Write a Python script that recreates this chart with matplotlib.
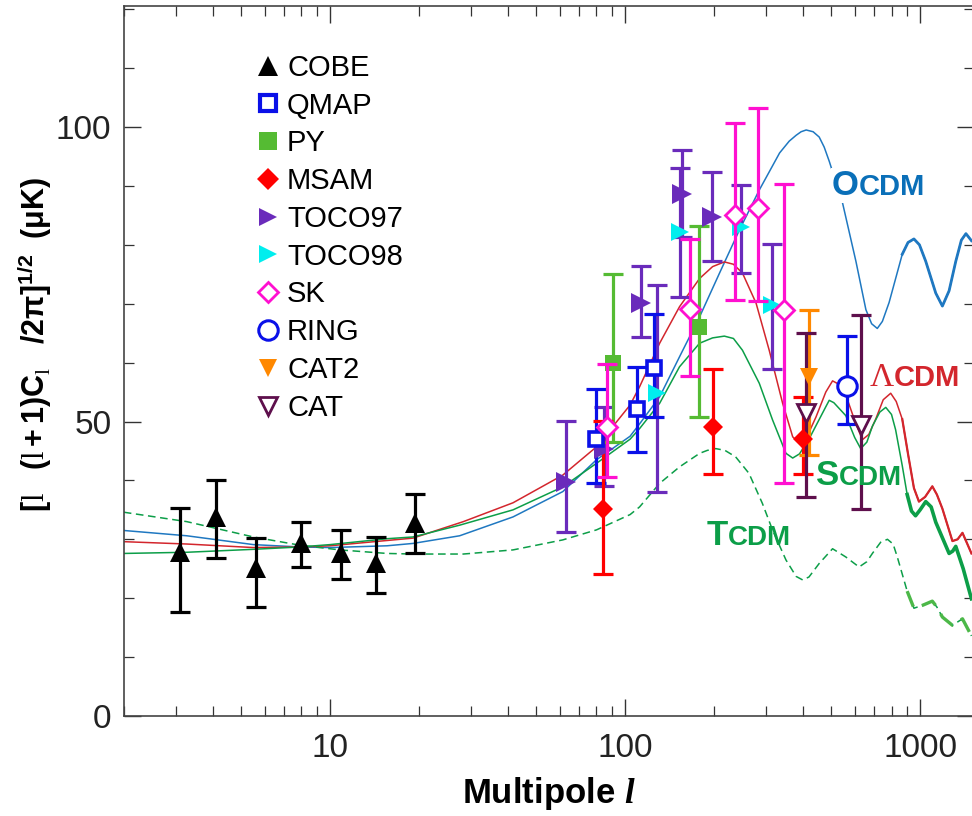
import numpy as np
import matplotlib
matplotlib.use("Agg")
import matplotlib.pyplot as plt
from matplotlib.lines import Line2D

plt.rcParams['font.family'] = ['Liberation Sans', 'DejaVu Sans']
plt.rcParams['mathtext.fontset'] = 'custom'
plt.rcParams['mathtext.rm'] = 'Liberation Serif'
plt.rcParams['mathtext.bf'] = 'Liberation Sans:bold'
plt.rcParams['mathtext.it'] = 'Liberation Serif:italic:bold'
plt.rcParams['mathtext.sf'] = 'Liberation Sans'

# ---------------- data ----------------
cobe_l   = [3.1, 4.1, 5.6, 8.0, 10.9, 14.3, 19.4]
cobe_v   = [27.9, 33.8, 25.1, 29.3, 27.6, 25.9, 32.7]
cobe_lo  = [17.6, 26.9, 18.5, 25.3, 23.3, 20.8, 27.7]
cobe_hi  = [35.4, 40.0, 30.3, 33.0, 31.6, 30.4, 37.7]

qmap_l   = [80, 110, 125]
qmap_v   = [47.1, 52.1, 59.1]
qmap_lo  = [39.5, 44.9, 50.7]
qmap_hi  = [55.5, 59.3, 68.2]

py_l     = [91, 178]
py_v     = [60.0, 66.1]
py_lo    = [46.6, 50.7]
py_hi    = [75.0, 83.2]

msam_l   = [84, 198, 402]
msam_v   = [35.1, 49.1, 47.0]
msam_lo  = [24.1, 41.1, 41.1]
msam_hi  = [50.1, 59.0, 54.1]

toco97_l  = [63, 85, 113, 156, 197]
toco97_v  = [39.8, 45.3, 70.2, 88.7, 84.8]
toco97_lo = [31.3, 39.0, 64.4, 81.3, 77.2]
toco97_hi = [50.1, 52.4, 76.4, 96.1, 92.4]

toco98_l  = [128, 153, 247, 316]
toco98_v  = [54.8, 82.1, 83.1, 69.8]
toco98_lo = [38.1, 71.2, 75.2, 59.0]
toco98_hi = [73.1, 93.1, 90.2, 80.1]

sk_l     = [87, 166, 235, 283, 345]
sk_v     = [49.1, 69.1, 85.1, 86.2, 69.0]
sk_lo    = [40.6, 57.8, 70.6, 70.5, 39.5]
sk_hi    = [59.7, 81.0, 100.7, 103.2, 90.4]

ring_l   = [565]
ring_v   = [56.1]
ring_lo  = [49.5]
ring_hi  = [64.6]

cat2_l   = [420]
cat2_v   = [57.6]
cat2_lo  = [44.4]
cat2_hi  = [69.0]

cat_l    = [409, 629]
cat_v    = [51.5, 49.4]
cat_lo   = [37.1, 35.2]
cat_hi   = [65.1, 68.1]

# model curves
ocdm_l = [2, 3.27, 5.5, 7.9, 10, 15.6, 19.1, 27.5, 41.7, 61.5, 80, 104, 112, 131, 153, 179,
          209, 244, 285, 334, 360, 380, 395, 411, 434, 455, 473, 492, 546, 606, 655, 685,
          716, 745, 785, 870, 910, 953, 995, 1045, 1130, 1190, 1254, 1321, 1380, 1430, 1493]
ocdm_v = [31.5, 30.6, 29.1, 28.7, 28.6, 28.9, 29.3, 30.6, 33.8, 38.1, 43.5, 47.5, 49.6, 54.2, 61.0, 67.8,
          75.2, 82.5, 89.3, 95.6, 97.6, 98.6, 99.2, 99.5, 99.2, 98.3, 96.6, 94.2, 87.1, 77.2, 69.0, 66.6,
          65.8, 67.0, 70.2, 78.4, 80.4, 81.0, 80.0, 77.2, 71.8, 69.6, 72.2, 77.2, 80.8, 81.9, 80.7]

lcdm_l = [2, 3.27, 5.5, 7.9, 10, 15.6, 19.1, 28.3, 41.7, 61.5, 80, 104, 112, 131, 153, 179,
          198, 217, 233, 250, 278, 308, 342, 370, 390, 410, 444, 479, 505, 532, 560, 600,
          637, 670, 707, 750, 795, 830, 870, 910, 953, 991, 1040, 1100, 1140, 1190, 1287,
          1340, 1392, 1493]
lcdm_v = [29.6, 29.2, 28.6, 28.7, 28.9, 29.8, 30.2, 33.0, 36.2, 40.9, 45.7, 52.8, 55.9, 63.3, 69.5, 74.3,
          76.3, 77.1, 76.7, 75.2, 70.1, 62.1, 53.1, 47.4, 46.3, 47.0, 50.8, 55.0, 56.9, 56.3, 54.5, 50.2,
          46.9, 47.8, 50.4, 53.7, 54.8, 53.4, 50.4, 44.5, 38.7, 36.4, 37.2, 39.0, 37.6, 35.2, 29.7,
          30.0, 31.1, 27.6]

scdm_l = [2, 3.27, 5.5, 7.9, 10, 15.6, 19.1, 27.5, 41.7, 61.5, 80, 104, 112, 131, 153, 179,
          198, 217, 233, 250, 285, 316, 351, 370, 390, 421, 479, 492, 510, 560, 600, 629,
          660, 689, 730, 765, 800, 826, 870, 904, 935, 965, 1000, 1045, 1090, 1130, 1254,
          1290, 1321, 1400, 1493]
scdm_v = [27.6, 27.8, 28.3, 28.7, 29.1, 30.1, 30.4, 32.4, 35.0, 38.9, 42.9, 47.0, 48.8, 53.1, 59.3, 63.3,
          64.2, 64.5, 64.1, 62.1, 56.5, 50.3, 44.6, 43.8, 44.5, 47.1, 52.5, 53.6, 53.2, 51.0, 47.3, 45.4,
          46.5, 49.2, 51.6, 52.4, 51.2, 48.6, 42.5, 37.6, 34.8, 34.0, 35.0, 36.4, 35.5, 32.9, 27.6,
          28.0, 28.8, 25.0, 19.9]

tcdm_l = [2, 3.27, 5.5, 7.9, 10.8, 15.6, 19.1, 28.3, 41.7, 61.5, 80, 104, 112, 131, 153, 179,
          190, 203, 218, 237, 263, 292, 316, 351, 380, 400, 420, 455, 505, 560, 621, 660,
          689, 735, 775, 810, 837, 904, 953, 1020, 1100, 1140, 1190, 1287, 1392, 1493]
tcdm_v = [34.6, 33.0, 30.4, 29.0, 28.2, 27.6, 27.5, 27.5, 28.2, 29.9, 31.6, 34.2, 35.5, 39.5, 42.3, 44.6,
          45.1, 45.4, 45.1, 44.0, 41.2, 36.1, 31.6, 26.5, 23.7, 23.1, 23.6, 25.9, 28.4, 27.0, 25.3, 26.2,
          27.6, 29.5, 30.0, 29.2, 27.0, 21.2, 18.3, 18.8, 19.5, 18.5, 16.8, 15.4, 16.5, 13.6]

legend_labels = ['COBE', 'QMAP', 'PY', 'MSAM', 'TOCO97', 'TOCO98', 'SK', 'RING', 'CAT2', 'CAT']

# ---------------- figure ----------------
fig = plt.figure(figsize=(9.72, 8.16), dpi=100)
ax = fig.add_axes([123.8 / 972, 100 / 816, (973.5 - 123.8) / 972, 709.7 / 816])
ax.set_xscale('log')
ax.set_xlim(2, 1517)
ax.set_ylim(0, 120.5)

c_o = '#1f78c1'
c_l = '#d3262d'
c_s = '#0c9e48'


def curve(lv, yv, color, thick_from, lw_thick, thick_color=None, **kw):
    lv = np.asarray(lv, float)
    yv = np.asarray(yv, float)
    ax.plot(lv, yv, color=color, lw=1.1, zorder=2, solid_joinstyle='round', **kw)
    m = lv >= thick_from
    ax.plot(lv[m], yv[m], color=thick_color or color, lw=lw_thick, zorder=2,
            solid_joinstyle='round', **kw)


curve(ocdm_l, ocdm_v, c_o, 870, 2.0)
curve(lcdm_l, lcdm_v, c_l, 870, 1.6)
curve(scdm_l, scdm_v, c_s, 904, 2.6)
curve(tcdm_l, tcdm_v, c_s, 904, 2.4, thick_color='#4cb848', dashes=(5, 3))

purple = '#6a2bbb'


def errb(lv, v, lo, hi, marker, color, ms, mfc=None, mew=0.0, ecolor=None, z=4):
    v = np.asarray(v, float)
    yerr = [v - np.asarray(lo, float), np.asarray(hi, float) - v]
    ax.errorbar(lv, v, yerr=yerr, fmt='none', ecolor=ecolor or color,
                elinewidth=2.3, capsize=7.5, capthick=2.3, zorder=z)
    ax.plot(lv, v, ls='none', marker=marker, ms=ms, markerfacecolor=mfc if mfc is not None else color,
            markeredgecolor=color, markeredgewidth=mew, zorder=z + 0.5)


errb(cobe_l, cobe_v, cobe_lo, cobe_hi, '^', 'black', 15)
errb(toco98_l, toco98_v, toco98_lo, toco98_hi, '>', '#00eeee', 13.5, ecolor=purple)
errb(toco97_l, toco97_v, toco97_lo, toco97_hi, '>', purple, 14)
errb(py_l, py_v, py_lo, py_hi, 's', '#55bb33', 11.5)
errb(qmap_l, qmap_v, qmap_lo, qmap_hi, 's', '#0a10e8', 9.5, mfc='white', mew=2.6)
errb(msam_l, msam_v, msam_lo, msam_hi, 'D', '#ff0000', 10.5)
errb(cat2_l, cat2_v, cat2_lo, cat2_hi, 'v', '#ff8800', 13.5)
errb(cat_l, cat_v, cat_lo, cat_hi, 'v', '#5e0f4c', 12.5, mfc='white', mew=2.0)
errb(ring_l, ring_v, ring_lo, ring_hi, 'o', '#0a10e8', 14, mfc='white', mew=2.2)
errb(sk_l, sk_v, sk_lo, sk_hi, 'D', '#ff10d0', 10.5, mfc='white', mew=2.0, z=5)

# legend
handles = [
    Line2D([], [], ls='none', marker='^', color='black', ms=15, mew=0),
    Line2D([], [], ls='none', marker='s', color='#0a10e8', mfc='white', ms=12, mew=3),
    Line2D([], [], ls='none', marker='s', color='#55bb33', ms=13, mew=0),
    Line2D([], [], ls='none', marker='D', color='#ff0000', ms=11, mew=0),
    Line2D([], [], ls='none', marker='>', color=purple, ms=13.5, mew=0),
    Line2D([], [], ls='none', marker='>', color='#00eeee', ms=13.5, mew=0),
    Line2D([], [], ls='none', marker='D', color='#ff10d0', mfc='white', ms=10.5, mew=2),
    Line2D([], [], ls='none', marker='o', color='#0a10e8', mfc='white', ms=14, mew=2.2),
    Line2D([], [], ls='none', marker='v', color='#ff8800', ms=13.5, mew=0),
    Line2D([], [], ls='none', marker='v', color='#5e0f4c', mfc='white', ms=12.5, mew=2),
]
leg = ax.legend(handles, legend_labels, loc='upper left', bbox_to_anchor=(0.1526, 0.933),
                frameon=False, fontsize=21, handlelength=1.0, handletextpad=0.15,
                labelspacing=0.335, borderpad=0, borderaxespad=0)


# model labels
def model_label(xf, yf, first, rest, color, s1, s2, fam1=None, w1='bold', bg=False):
    kw = dict(transform=ax.transAxes, va='baseline', color=color, zorder=6)
    t1 = ax.text(xf, yf, first, ha='right', fontsize=s1, fontweight=w1,
                 family=fam1 or ['Liberation Sans', 'DejaVu Sans'], **kw)
    t2 = ax.text(xf, yf, rest, ha='left', fontsize=s2, fontweight='bold', **kw)
    if bg:
        for t in (t1, t2):
            t.set_bbox(dict(facecolor='white', edgecolor='none', pad=1))


model_label(0.8653, 0.7341, 'O', 'CDM', '#0a6fb8', 25, 21, bg=True)
model_label(0.9065, 0.465, 'Λ', 'CDM', c_l, 24, 21, fam1=['Liberation Serif', 'DejaVu Serif'], w1='normal')
model_label(0.8417, 0.3255, 'S', 'CDM', c_s, 25, 20)
model_label(0.7111, 0.2409, 'T', 'CDM', c_s, 25, 20)

# axes styling
ax.set_yticks([0, 50, 100])
ax.set_yticks(np.arange(0, 121, 10), minor=True)
ax.set_xticks([10, 100, 1000])
ax.set_xticklabels(['10', '100', '1000'])
ax.set_yticklabels(['0', '50', '100'])
ax.tick_params(which='both', direction='in', top=True, right=True, colors='#333333',
               labelcolor='#222222', labelsize=24)
ax.tick_params(which='major', length=12, width=1.0, pad=9)
ax.tick_params(which='minor', length=7, width=0.9)
ax.tick_params(axis='x', which='major', pad=12)
for s in ax.spines.values():
    s.set_color('#444444')
    s.set_linewidth(1.2)

ax.set_xlabel(r'Multipole $\mathit{l}$', fontsize=25, fontweight='bold', labelpad=8)
ax.set_ylabel(r'$\mathbf{[\mathrm{l}\ \ \ (\mathrm{l}+1)C_{\mathrm{l}}\ \ \ /2\pi]^{1/2}\ \ (\mu K)}$',
              fontsize=22)
ax.yaxis.set_label_coords(-0.082, 0.523)

fig.savefig('out.png', dpi=100)
